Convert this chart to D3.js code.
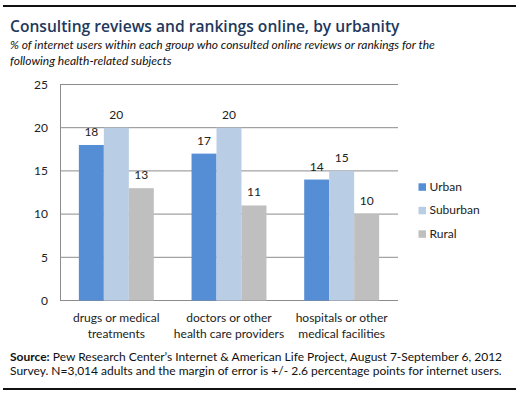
<!DOCTYPE html>
<html>
<head>
<meta charset="utf-8">
<script src="https://cdn.jsdelivr.net/npm/d3@7"></script>
<style>
  body { margin: 0; background: #fff; }
  text { font-family: Lato, "Open Sans", sans-serif; }
</style>
</head>
<body>
<div id="chart"></div>
<script>
// Data
const categories = [
    ["drugs or medical", "treatments"],
    ["doctors or other", "health care providers"],
    ["hospitals or other", "medical facilities"]
];
const seriesNames = ["Urban", "Suburban", "Rural"];
const urban = [18, 17, 14];
const suburban = [20, 20, 15];
const rural = [13, 11, 10];
const yTicks = [0, 5, 10, 15, 20, 25];
const colors = ["#558ed5", "#b9cde5", "#bfbfbf"];

const values = [urban, suburban, rural];

const W = 521, H = 397;
const svg = d3.select("#chart")
    .append("svg")
    .attr("width", W)
    .attr("height", H)
    .style("display", "block");

// Rules top & bottom
svg.append("rect").attr("x", 3).attr("y", 5).attr("width", 513).attr("height", 2)
    .attr("fill", "#111");
svg.append("rect").attr("x", 3).attr("y", 388).attr("width", 513).attr("height", 2)
    .attr("fill", "#111");

// Title + subtitle
svg.append("text")
    .attr("x", 10).attr("y", 32)
    .style("font-family", "'Open Sans', sans-serif")
    .style("font-size", "15.6px")
    .style("font-weight", "600")
    .style("fill", "#22385c")
    .text("Consulting reviews and rankings online, by urbanity");

const sub = svg.append("text")
    .attr("x", 10).attr("y", 49)
    .style("font-size", "12px")
    .style("font-style", "italic")
    .style("fill", "#111");
sub.append("tspan").attr("x", 10).text("% of internet users within each group who consulted online reviews or rankings for the");
sub.append("tspan").attr("x", 10).attr("dy", 15.5).text("following health-related subjects");

// Plot area
const plot = { left: 60, right: 398, top: 84.5, bottom: 300.5 };

const y = d3.scaleLinear()
    .domain([0, 25])
    .range([plot.bottom, plot.top]);

const x0 = d3.scaleBand()
    .domain(d3.range(categories.length))
    .range([plot.left, plot.right])
    .paddingInner(0.335)
    .paddingOuter(0.1675);

const x1 = d3.scaleBand()
    .domain(d3.range(seriesNames.length))
    .range([0, x0.bandwidth()]);

// Gridlines
svg.append("g")
    .selectAll("line")
    .data(yTicks)
    .enter()
    .append("line")
    .attr("x1", plot.left)
    .attr("x2", plot.right)
    .attr("y1", d => y(d))
    .attr("y2", d => y(d))
    .attr("stroke", "#8c8c8c")
    .attr("stroke-width", 1);

// Y axis
const yAxis = svg.append("g")
    .attr("transform", `translate(${plot.left},0)`)
    .call(d3.axisLeft(y).tickValues(yTicks).tickSize(0).tickPadding(12));
yAxis.select(".domain").attr("stroke", "#8c8c8c");
yAxis.selectAll("text")
    .style("font-size", "12px")
    .style("fill", "#222")
    .style("font-family", "Lato, sans-serif");

// Bars
const groups = svg.append("g")
    .selectAll("g")
    .data(categories)
    .enter()
    .append("g")
    .attr("transform", (d, i) => `translate(${x0(i)},0)`);

groups.selectAll("rect")
    .data((d, i) => values.map((s, k) => ({ k, v: s[i] })))
    .enter()
    .append("rect")
    .attr("x", d => x1(d.k))
    .attr("y", d => y(d.v))
    .attr("width", x1.bandwidth())
    .attr("height", d => y(0) - y(d.v))
    .attr("fill", d => colors[d.k]);

groups.selectAll("text.val")
    .data((d, i) => values.map((s, k) => ({ k, v: s[i] })))
    .enter()
    .append("text")
    .attr("class", "val")
    .attr("x", d => x1(d.k) + x1.bandwidth() / 2)
    .attr("y", d => y(d.v) - 9)
    .attr("text-anchor", "middle")
    .style("font-size", "12px")
    .style("fill", "#222")
    .text(d => d.v);

// X labels
const xl = svg.append("g")
    .selectAll("text")
    .data(categories)
    .enter()
    .append("text")
    .attr("x", (d, i) => x0(i) + x0.bandwidth() / 2)
    .attr("y", 322)
    .attr("text-anchor", "middle")
    .style("font-size", "12px")
    .style("fill", "#222");
xl.append("tspan")
    .attr("x", (d, i) => x0(i) + x0.bandwidth() / 2)
    .text(d => d[0]);
xl.append("tspan")
    .attr("x", (d, i) => x0(i) + x0.bandwidth() / 2)
    .attr("dy", 15.5)
    .text(d => d[1]);

// Legend
const legend = svg.append("g")
    .selectAll("g")
    .data(seriesNames)
    .enter()
    .append("g")
    .attr("transform", (d, i) => `translate(418.5,${183.3 + i * 23.5})`);
legend.append("rect")
    .attr("width", 7.5).attr("height", 7.5)
    .attr("fill", (d, i) => colors[i]);
legend.append("text")
    .attr("x", 11).attr("y", 7.5)
    .style("font-size", "12px")
    .style("fill", "#222")
    .text(d => d);

// Source
const src = svg.append("text")
    .attr("x", 10).attr("y", 361)
    .style("font-size", "12px")
    .style("fill", "#111");
src.append("tspan").style("font-weight", "bold").text("Source:");
src.append("tspan").text(" Pew Research Center\u2019s Internet & American Life Project, August 7-September 6, 2012");
svg.append("text")
    .attr("x", 10).attr("y", 375)
    .style("font-size", "12px")
    .style("fill", "#111")
    .text("Survey. N=3,014 adults and the margin of error is +/- 2.6 percentage points for internet users.");
</script>
</body>
</html>
